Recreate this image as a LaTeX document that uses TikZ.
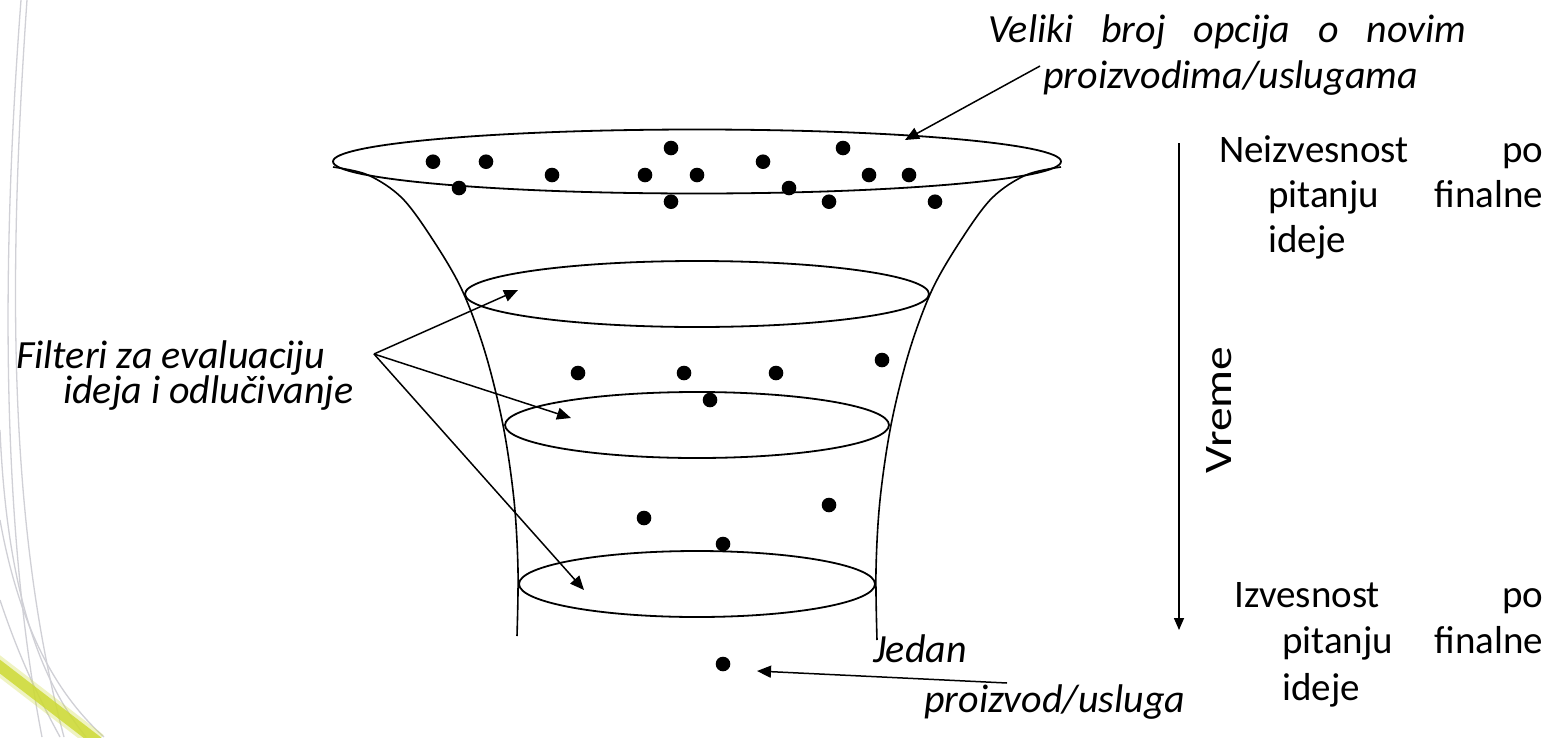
\documentclass[tikz,border=0pt]{standalone}
\usepackage{fontspec}
\usepackage{graphicx}
\setmainfont{Carlito}
\usetikzlibrary{arrows.meta}

\definecolor{decogray}{RGB}{208,208,214}
\definecolor{bandgreen}{RGB}{205,218,55}

\tikzset{
  outline/.style={line width=1.6pt},
  rim/.style={line width=1.8pt},
  pointer/.style={line width=1.5pt, -{Triangle[length=14pt,width=12pt]}},
  idea/.style={fill=black},
  deco/.style={decogray, line width=1.3pt},
  txt/.style={inner sep=0pt, font=\fontsize{39}{45}\selectfont},
  itxt/.style={inner sep=0pt, font=\fontsize{40}{46}\selectfont\itshape},
}

\begin{document}
\begin{tikzpicture}[x=1pt, y=-1pt]
\useasboundingbox (0,0) rectangle (1558,737);
\fill[white] (0,0) rectangle (1558,737);

% faint background swirl at the left edge
\draw[deco] (21,0) .. controls (2,250) and (0,520) .. (42,737);
\draw[deco] (27,0) .. controls (9,260) and (6,520) .. (64,737);
\draw[deco] (0,430) .. controls (6,570) and (32,670) .. (86,737);
\draw[deco] (0,520) .. controls (18,620) and (52,690) .. (104,737);
\draw[deco] (0,600) .. controls (20,660) and (40,700) .. (60,737);
\draw[bandgreen, line width=18pt, opacity=0.3] (-6,662) -- (98,742);
\draw[bandgreen, line width=11pt, opacity=0.85] (-6,662) -- (98,742);

% funnel walls
\draw[outline] plot[smooth, tension=0.55] coordinates {
  (333,167) (368,175) (402,198) (433,240) (462,290) (485,352)
  (503,425) (514,500) (518,570) (517,636)};
\draw[outline] plot[smooth, tension=0.55] coordinates {
  (1061,167) (1026,175) (992,198) (961,240) (932,290) (909,352)
  (891,425) (880,500) (876,570) (877,640)};

% rims of the funnel (filters)
\draw[rim] (697,161.5) ellipse [x radius=364, y radius=32];
\draw[rim] (697,294) ellipse [x radius=232, y radius=33];
\draw[rim] (697,425) ellipse [x radius=192, y radius=33];
\draw[rim] (697,584) ellipse [x radius=178, y radius=33];

% ideas entering the funnel
\foreach \p in {(433,161.7),(486,161.7),(459,188),(552,175),(671,148),
                (645,175),(697,175),(671,201.7),(763,161.7),(789,188),
                (843,148),(869,175),(909,175),(829,201.7),(935,201.7)}
  \fill[idea] \p circle [radius=7.3];
% ideas after the first filters
\foreach \p in {(578,373),(684,373),(776,373),(882,360),(710,400),
                (644,518),(829,505),(723,544)}
  \fill[idea] \p circle [radius=7.3];
% the single remaining product
\fill[idea] (723,664) circle [radius=7.3];

% labels
\node[itxt, anchor=base west] (options) at (988,42)
  {\vtop{\hbox to 478pt{Veliki\hfill broj\hfill opcija\hfill o\hfill novim}
         \hbox{\kern55pt proizvodima/uslugama}}};
\node[itxt, anchor=base west, font=\fontsize{40}{34}\selectfont\itshape] (filters) at (16,368)
  {\vtop{\hbox{Filteri za evaluaciju}
         \hbox{\kern47pt ideja i odlučivanje}}};
\node[itxt, anchor=base west, font=\fontsize{40}{50}\selectfont\itshape] (single) at (873,662)
  {\vtop{\hbox{Jedan}
         \hbox{\kern51pt proizvod/usluga}}};
\node[txt, anchor=base west] (uncertain) at (1219,162)
  {\vtop{\hbox to 324pt{Neizvesnost\hfill po}
         \hbox{\kern49pt\hbox to 275pt{pitanju\hfill finalne}}
         \hbox{\kern49pt ideje}}};
\node[txt, anchor=base west, font=\fontsize{39}{46.5}\selectfont] (certain) at (1234,607)
  {\vtop{\hbox to 309pt{Izvesnost\hfill po}
         \hbox{\kern48pt\hbox to 261pt{pitanju\hfill finalne}}
         \hbox{\kern48pt ideje}}};
\node[txt, anchor=base, rotate=90] (time) at (1231,410) {\scalebox{1.22}[1]{Vreme}};

% connector end points
\coordinate (optTail) at (1040,66);
\coordinate (optHead) at (905,140);
\coordinate (hub) at (374,354);
\coordinate (f1) at (518,290);
\coordinate (f2) at (571,418);
\coordinate (f3) at (584,590);
\coordinate (oneTail) at (1007,683);
\coordinate (oneHead) at (757,671);
\coordinate (timeTop) at (1179,143);
\coordinate (timeEnd) at (1179,630);

% connectors
\draw[pointer] (optTail) -- (optHead);
\draw[pointer] (hub) -- (f1);
\draw[pointer] (hub) -- (f2);
\draw[pointer] (hub) -- (f3);
\draw[pointer] (oneTail) -- (oneHead);
\draw[line width=1.5pt, -{Triangle[length=12pt,width=10pt]}] (timeTop) -- (timeEnd);
\end{tikzpicture}
\end{document}
